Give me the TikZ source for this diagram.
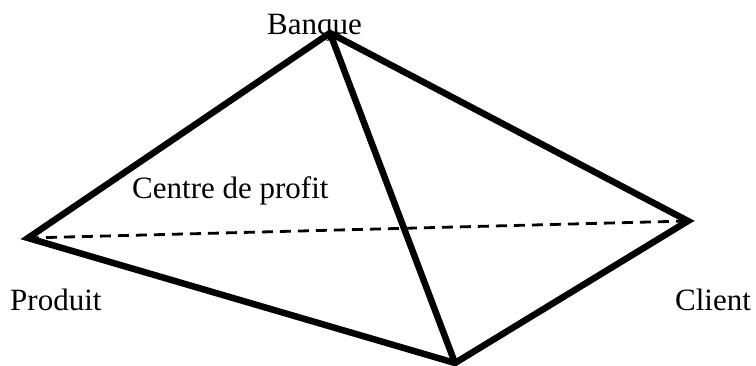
\documentclass[tikz,border=0pt]{standalone}
\usepackage{fontspec}
\setmainfont{Liberation Serif}
\begin{document}
\begin{tikzpicture}[x=1pt,y=1pt,
  edge/.style={line width=6.5pt,line join=miter,black},
  hidden/.style={line width=2.8pt,dash pattern=on 11pt off 7pt,black},
  lbl/.style={inner sep=0pt,anchor=base west,font=\fontsize{31}{36}\selectfont}]
\useasboundingbox (0,0) rectangle (756,365);
\coordinate (T) at (330,332);
\coordinate (L) at (28,127);
\coordinate (R) at (688,144);
\coordinate (B) at (455,2);
\draw[hidden] (L) -- (R);
\draw[edge] (T) -- (L) -- (B) -- (R) -- cycle;
\draw[edge] (T) -- (B);
\node[lbl] (banque) at (267,330) {Banque};
\node[lbl] (centre) at (132,167) {Centre de profit};
\node[lbl] (produit) at (10,55) {Produit};
\node[lbl] (client) at (675,55) {Client};
\end{tikzpicture}
\end{document}
